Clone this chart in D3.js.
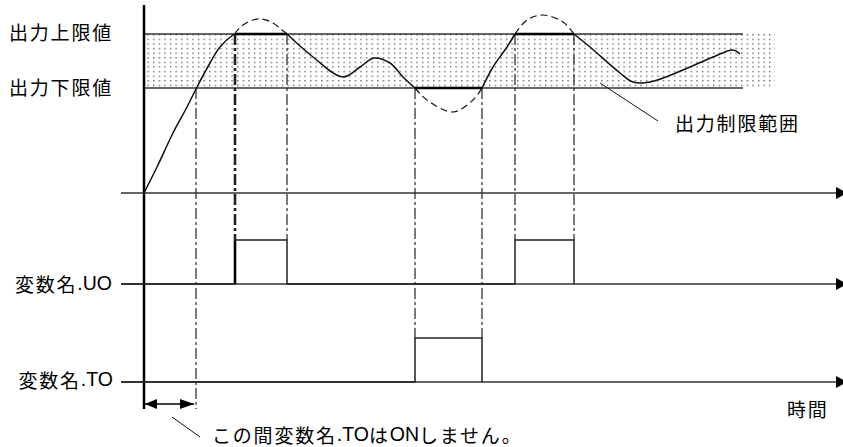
<!DOCTYPE html>
<html>
<head>
<meta charset="utf-8">
<script src="https://cdn.jsdelivr.net/npm/d3@7"></script>
<style>
  body { margin: 0; background: #fff; }
  svg { display: block; }
  text { font-family: "Noto Sans CJK JP", "Noto Sans", sans-serif; font-size: 19px; fill: #000; letter-spacing: 1.8px; }
  tspan.lat { font-family: "Liberation Sans", Arial, sans-serif; letter-spacing: 0; font-size: 19.5px; }
</style>
</head>
<body>
<div id="chart"></div>
<script>
"use strict";

// === DATA (time units, output value units) ===
const upperLimit = 159, lowerLimit = 105;
const limitLabels = ["出力上限値", "出力下限値"];

// actual (clamped) output, drawn solid
const riseCurve = [[0, 0], [13, 26], [29, 60], [43, 86], [53, 106], [66, 130], [76, 146], [89, 158], [91, 159]];
const wobbleCurve = [[143, 159], [169, 136], [199, 116], [216, 126], [230, 135], [246, 130], [259, 116], [271, 105]];
const climbCurve = [[338, 105], [349, 126], [363, 146], [371, 159]];
const tailCurve = [[430, 159], [446, 146], [476, 120], [489, 111], [506, 111], [539, 123], [569, 136], [589, 143], [596, 139]];

// unclamped output, drawn dashed
const overshoot1 = [[91, 159], [92, 161], [99, 168], [109, 173], [118, 174], [129, 170], [138, 163], [143, 159]];
const undershoot = [[271, 105], [283, 93], [309, 81], [329, 93], [338, 105]];
const overshoot2 = [[371, 159], [383, 173], [399, 178], [419, 171], [430, 159]];

// clamped intervals [start, end, limit]
const clampRanges = [[91, 143, upperLimit], [271, 338, lowerLimit], [371, 430, upperLimit]];

// digital outputs
const uoSteps = [[-23, 0], [91, 1], [143, 0], [371, 1], [430, 0]];
const toSteps = [[-23, 0], [271, 1], [338, 0]];

// guide lines: time, start level, end signal
const guides = [
  { t: 52, from: lowerLimit, to: "hold" },
  { t: 91, from: upperLimit, to: "uo", bold: true },
  { t: 143, from: upperLimit, to: "uo" },
  { t: 271, from: lowerLimit, to: "to" },
  { t: 338, from: lowerLimit, to: "to" },
  { t: 371, from: upperLimit, to: "uo" },
  { t: 430, from: upperLimit, to: "uo" }
];
const holdTime = [0, 52];

// === SVG SETUP ===
const W = 843, H = 447;
const svg = d3.select("#chart").append("svg").attr("width", W).attr("height", H);

const x = d3.scaleLinear().domain([0, 700]).range([144, 844]);
const y = d3.scaleLinear().domain([0, 159]).range([193, 34]);
const yUO = d3.scaleLinear().domain([0, 1]).range([284, 240]);
const yTO = d3.scaleLinear().domain([0, 1]).range([382, 338]);
const holdY = 404;

// text with latin runs in a separate font
function label(sel, parts) {
  parts.forEach(p => {
    const isLat = /^[A-Za-z.]+$/.test(p);
    sel.append("tspan").attr("class", isLat ? "lat" : null).text(p);
  });
  return sel;
}

const defs = svg.append("defs");
const pat = defs.append("pattern")
  .attr("id", "dots").attr("patternUnits", "userSpaceOnUse")
  .attr("width", 5.6).attr("height", 4.6);
pat.append("rect").attr("x", 2).attr("y", 2).attr("width", 1.2).attr("height", 1.2).attr("fill", "#333");

// === BAND ===
svg.append("rect")
  .attr("x", x(2)).attr("y", y(upperLimit))
  .attr("width", x(631) - x(2)).attr("height", y(lowerLimit) - y(upperLimit))
  .attr("fill", "url(#dots)");

[upperLimit, lowerLimit].forEach(v => {
  svg.append("line")
    .attr("x1", x(0)).attr("x2", x(599))
    .attr("y1", y(v)).attr("y2", y(v))
    .attr("stroke", "#333").attr("stroke-width", 1.6);
});

svg.selectAll(".lim").data(limitLabels).enter().append("text")
  .attr("x", 113).attr("text-anchor", "end")
  .attr("y", (d, i) => i === 0 ? y(upperLimit) - 3 : y(lowerLimit) - 2)
  .attr("dominant-baseline", "central")
  .text(d => d);

// === GUIDES ===
guides.forEach(g => {
  const yEnd = g.to === "uo" ? yUO(1) : g.to === "to" ? yTO(1) : holdY + 5;
  svg.append("line")
    .attr("x1", x(g.t)).attr("x2", x(g.t))
    .attr("y1", y(g.from)).attr("y2", yEnd)
    .attr("stroke", "#222")
    .attr("stroke-width", g.bold ? 2.6 : 1.2)
    .attr("stroke-dasharray", "11 3 3 3");
});

// === AXES (time) ===
[y(0), yUO(0), yTO(0)].forEach(ay => {
  svg.append("line")
    .attr("x1", x(-23)).attr("x2", x(692))
    .attr("y1", ay).attr("y2", ay)
    .attr("stroke", "#333").attr("stroke-width", 1.5);
  svg.append("path")
    .attr("d", `M${x(692)},${ay - 6} L${x(703)},${ay} L${x(692)},${ay + 6} Z`)
    .attr("fill", "#000");
});

// vertical axis
svg.append("line")
  .attr("x1", x(0)).attr("x2", x(0))
  .attr("y1", 5).attr("y2", holdY + 5)
  .attr("stroke", "#000").attr("stroke-width", 2.5);

// === CURVES ===
const line = d3.line().x(d => x(d[0])).y(d => y(d[1])).curve(d3.curveCatmullRom);

[riseCurve, wobbleCurve, climbCurve, tailCurve].forEach(c => {
  svg.append("path").attr("d", line(c))
    .attr("fill", "none").attr("stroke", "#111").attr("stroke-width", 1.5);
});

[overshoot1, undershoot, overshoot2].forEach(c => {
  svg.append("path").attr("d", line(c))
    .attr("fill", "none").attr("stroke", "#111").attr("stroke-width", 1.2)
    .attr("stroke-dasharray", "7 4");
});

clampRanges.forEach(r => {
  svg.append("line")
    .attr("x1", x(r[0])).attr("x2", x(r[1]))
    .attr("y1", y(r[2])).attr("y2", y(r[2]))
    .attr("stroke", "#000").attr("stroke-width", 2.6);
});

// === DIGITAL SIGNALS ===
const uoLine = d3.line().x(d => x(d[0])).y(d => yUO(d[1])).curve(d3.curveStepAfter);
const toLine = d3.line().x(d => x(d[0])).y(d => yTO(d[1])).curve(d3.curveStepAfter);

svg.append("path").attr("d", uoLine(uoSteps))
  .attr("fill", "none").attr("stroke", "#222").attr("stroke-width", 1.5);
svg.append("path").attr("d", toLine(toSteps))
  .attr("fill", "none").attr("stroke", "#222").attr("stroke-width", 1.5);

// bold rising edge of first UO pulse
svg.append("line")
  .attr("x1", x(91)).attr("x2", x(91))
  .attr("y1", yUO(1)).attr("y2", yUO(0))
  .attr("stroke", "#000").attr("stroke-width", 2.6);

label(svg.append("text").attr("x", 112).attr("y", yUO(0) - 1)
  .attr("text-anchor", "end").attr("dominant-baseline", "central"), ["変数名", ".UO"]);
label(svg.append("text").attr("x", 113).attr("y", yTO(0) - 3)
  .attr("text-anchor", "end").attr("dominant-baseline", "central"), ["変数名", ".TO"]);

// === HOLD-OFF ARROW ===
const hx0 = x(holdTime[0]) + 1, hx1 = x(holdTime[1]) - 2;
svg.append("line")
  .attr("x1", hx0).attr("x2", hx1).attr("y1", holdY).attr("y2", holdY)
  .attr("stroke", "#000").attr("stroke-width", 1.5);
svg.append("path")
  .attr("d", `M${hx0},${holdY} L${hx0 + 12},${holdY - 5} L${hx0 + 12},${holdY + 5} Z`)
  .attr("fill", "#000");
svg.append("path")
  .attr("d", `M${hx1},${holdY} L${hx1 - 14},${holdY - 5} L${hx1 - 14},${holdY + 5} Z`)
  .attr("fill", "#000");

svg.append("line")
  .attr("x1", 172).attr("y1", 417).attr("x2", 200).attr("y2", 437)
  .attr("stroke", "#111").attr("stroke-width", 1);
label(svg.append("text").attr("x", 212).attr("y", 434)
  .attr("dominant-baseline", "central"), ["この間変数名", ".TO", "は", "ON", "しません。"]);

// === BAND CALLOUT ===
svg.append("line")
  .attr("x1", 600).attr("y1", 83).attr("x2", 658).attr("y2", 121)
  .attr("stroke", "#111").attr("stroke-width", 1);
svg.append("text").attr("x", 675).attr("y", 122)
  .attr("dominant-baseline", "central").text("出力制限範囲");

svg.append("text").attr("x", 787).attr("y", 408)
  .attr("dominant-baseline", "central").text("時間");
</script>
</body>
</html>
